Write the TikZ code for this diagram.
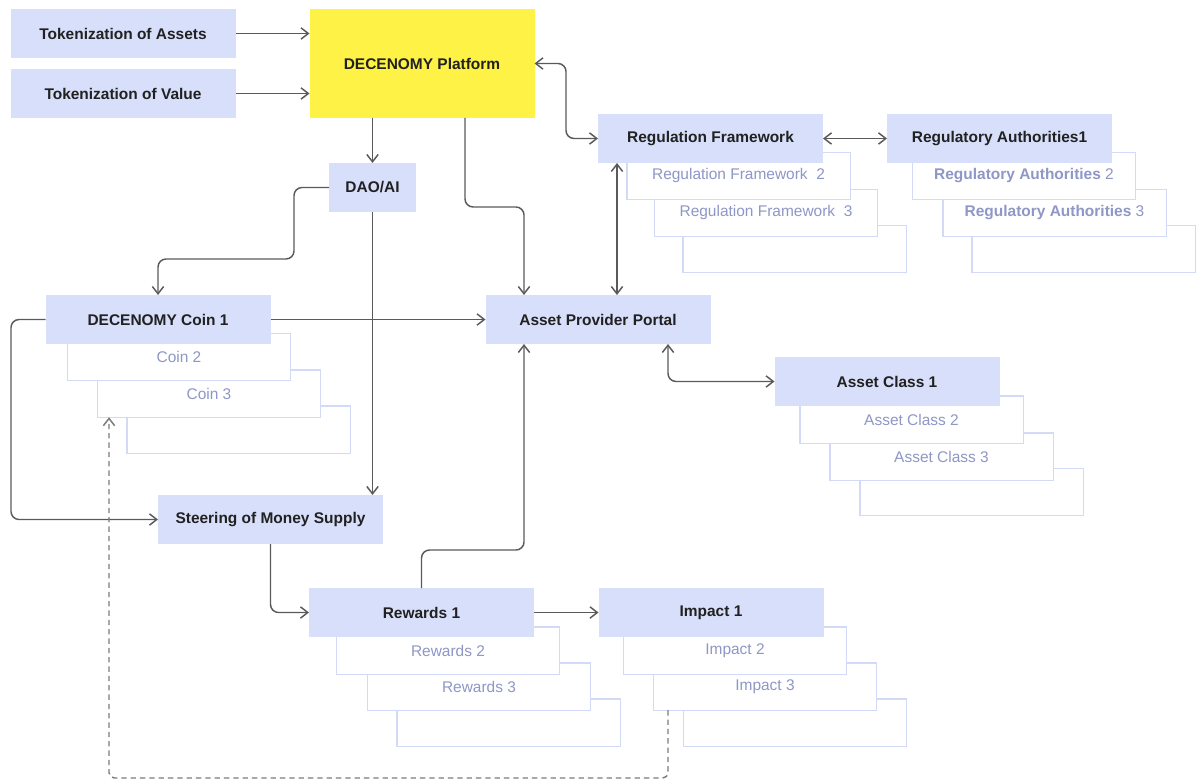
\documentclass[tikz,border=0pt]{standalone}
\usepackage{fontspec}
\setmainfont{Liberation Sans}
\usetikzlibrary{arrows.meta,calc}
\definecolor{boxfill}{HTML}{D8DFFA}
\definecolor{boxline}{HTML}{D3DAF7}
\definecolor{subtext}{HTML}{8E97C6}
\definecolor{platyellow}{HTML}{FEF246}
\definecolor{linegray}{HTML}{5A5A5A}
\definecolor{maintext}{HTML}{212121}
\begin{document}
\begin{tikzpicture}[x=0.75pt,y=-0.75pt,
  mainbox/.style={fill=boxfill, draw=none, inner sep=0pt, outer sep=0pt,
    minimum width=168.75pt, minimum height=36.75pt, text=maintext,
    font=\bfseries\fontsize{11.6}{14}\selectfont},
  subbox/.style={fill=white, draw=boxline, line width=1.1pt, inner sep=0pt, outer sep=0pt,
    minimum width=167.6pt, minimum height=35.6pt, text=subtext,
    font=\fontsize{11.6}{14}\selectfont},
  conn/.style={draw=linegray, line width=1.1pt, rounded corners=6pt},
  arr/.style={conn, -{Straight Barb[length=5.5pt,width=8.5pt]}},
  biarr/.style={conn, {Straight Barb[length=5.5pt,width=8.5pt]}-{Straight Barb[length=5.5pt,width=8.5pt]}},
  dasharr/.style={draw=linegray!80, line width=1.1pt, dash pattern=on 4pt off 3pt, rounded corners=4pt,
    -{Straight Barb[length=5.5pt,width=8.5pt]}},
]
\useasboundingbox (0,0) rectangle (1198,780);

% top-left inputs
\node[mainbox] (tokA) at (123,33.5) {Tokenization of Assets};
\node[mainbox] (tokV) at (123,93.5) {Tokenization of Value};
\node[mainbox, fill=platyellow, minimum height=81.75pt] (plat) at (422,63.5) {DECENOMY Platform};
\node[mainbox, minimum width=65.25pt] (dao) at (372.5,187.5) {DAO/AI};

% regulation framework stack
\node[subbox] (rf4) at (794.5,249) {};
\node[subbox] (rf3) at (766,213) {Regulation Framework\ \ 3};
\node[subbox] (rf2) at (738.5,176) {Regulation Framework\ \ 2};
\node[mainbox] (rf1) at (710.5,138.5) {Regulation Framework};

% regulatory authorities stack
\node[subbox] (ra4) at (1083.5,249) {};
\node[subbox] (ra3) at (1054.5,213) {{\bfseries Regulatory Authorities} 3};
\node[subbox] (ra2) at (1024,176) {{\bfseries Regulatory Authorities} 2};
\node[mainbox] (ra1) at (999.5,138.5) {Regulatory Authorities1};

% coin stack
\node[subbox] (coin4) at (238.5,429.5) {};
\node[subbox] (coin3) at (209,393.5) {Coin 3};
\node[subbox] (coin2) at (179,357) {Coin 2};
\node[mainbox] (coin1) at (158,319.5) {DECENOMY Coin 1};

\node[mainbox] (app) at (598,319.5) {Asset Provider Portal};

% asset class stack
\node[subbox] (ac4) at (971.5,492) {};
\node[subbox] (ac3) at (941.5,456.5) {Asset Class 3};
\node[subbox] (ac2) at (911.5,419.5) {Asset Class 2};
\node[mainbox] (ac1) at (887,381.5) {Asset Class 1};

\node[mainbox] (steer) at (270.5,519.5) {Steering of Money Supply};

% rewards stack
\node[subbox] (rw4) at (508.5,722.5) {};
\node[subbox] (rw3) at (479,686.5) {Rewards 3};
\node[subbox] (rw2) at (448,650.5) {Rewards 2};
\node[mainbox] (rw1) at (421.5,612.5) {Rewards 1};

% impact stack
\node[subbox] (im4) at (795,722.5) {};
\node[subbox] (im3) at (765,686.5) {Impact 3};
\node[subbox] (im2) at (735,650.5) {Impact 2};
\node[mainbox] (im1) at (711,612.5) {Impact 1};

% helper coordinates
\coordinate (j1) at (294,259);
\coordinate (j2) at (494,207);
\coordinate (j3) at (566,100);
\coordinate (j4) at (11,420);
\coordinate (j5) at (470,550);
\coordinate (j6) at (400,778);

% connectors
\draw[arr] (tokA.east) -- (tokA.east -| plat.west);
\draw[arr] (tokV.east) -- (tokV.east -| plat.west);
\draw[arr] (dao.north |- plat.south) -- (dao.north);
\draw[arr] (dao.west) -| (j1) -| (coin1.north);
\draw[arr] ($(plat.south)+(43,0)$) |- (j2) -| ($(app.north)+(-74,0)$);
\draw[arr] (dao.south) -- (dao.south |- steer.north);
\draw[biarr] (plat.east) -| (j3) |- (rf1.west);
\draw[biarr] (rf1.east) -- (ra1.west);
\draw[biarr] ($(rf1.south)+(-93.5,0)$) -- ($(app.north)+(19,0)$);
\draw[arr] (coin1.east) -- (app.west);
\draw[arr] (coin1.west) -| (j4) |- (steer.west);
\draw[biarr] ($(app.south)+(70,0)$) |- (ac1.west);
\draw[arr] (steer.south) |- (rw1.west);
\draw[arr] (rw1.east) -- (im1.west);
\draw[arr] (rw1.north) |- (j5) -| ($(app.south)+(-74,0)$);
\draw[dasharr] ($(im3.south)+(-97,0)$) |- (j6) -| ($(coin3.south)+(-100,0)$);
\end{tikzpicture}
\end{document}
